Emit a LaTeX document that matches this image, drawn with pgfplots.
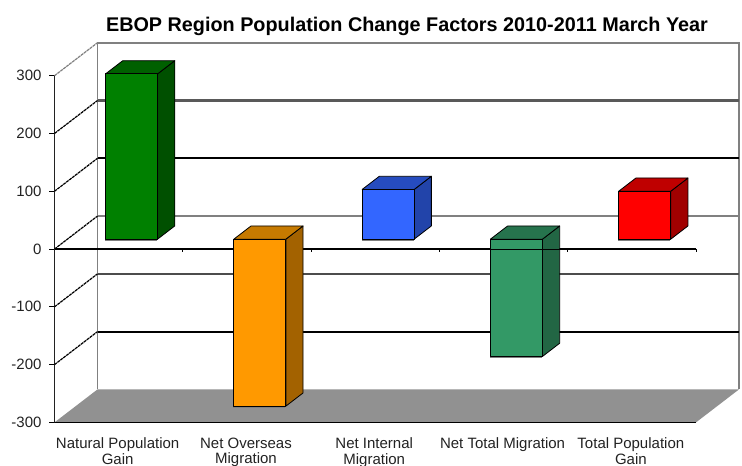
\documentclass[border=0pt]{standalone}
\usepackage{fontspec}
\setmainfont{Liberation Sans}
\usepackage{pgfplots}
\pgfplotsset{compat=1.18}

\definecolor{inktext}{HTML}{222222}
\definecolor{wallgrey}{HTML}{808080}
\definecolor{floorgrey}{HTML}{919191}
\definecolor{greenF}{HTML}{008000}
\definecolor{greenS}{HTML}{005000}
\definecolor{greenT}{HTML}{006000}
\definecolor{orangeF}{HTML}{FF9900}
\definecolor{orangeS}{HTML}{A36200}
\definecolor{orangeT}{HTML}{C67A00}
\definecolor{blueF}{HTML}{3366FF}
\definecolor{blueS}{HTML}{2244AA}
\definecolor{blueT}{HTML}{264CBF}
\definecolor{seaF}{HTML}{339966}
\definecolor{seaS}{HTML}{226644}
\definecolor{seaT}{HTML}{26734D}
\definecolor{redF}{HTML}{FF0000}
\definecolor{redS}{HTML}{A00000}
\definecolor{redT}{HTML}{BF0000}

% One prism: category slot #1, value #2, faces #3 (front), #4 (side), #5 (top).
% Depth runs from 0.3 to 0.7 of the floor; full depth is (0.3352, 57.1) in data units.
\newcommand{\prism}[5]{%
  \pgfmathsetmacro{\vtop}{max(#2,0)}%
  \pgfmathsetmacro{\vbot}{min(#2,0)}%
  \addplot[fill=wallgrey, draw=none] coordinates {
    (#1+0.5-0.2057+0.1006,\vbot+14) (#1+0.5+0.1997+0.1006,\vbot+14)
    (#1+0.5+0.1997+0.1006,\vbot+20) (#1+0.5-0.2057+0.1006,\vbot+20)} --cycle;
  \addplot[fill=#4, draw=black, line width=0.8pt, line join=round] coordinates {
    (#1+0.5+0.2027+0.1006,\vbot+17.13) (#1+0.5+0.2027+0.2346,\vbot+39.97)
    (#1+0.5+0.2027+0.2346,\vtop+39.97) (#1+0.5+0.2027+0.1006,\vtop+17.13)} --cycle;
  \addplot[fill=#5, draw=black, line width=0.8pt, line join=round] coordinates {
    (#1+0.5-0.2027+0.1006,\vtop+17.13) (#1+0.5+0.2027+0.1006,\vtop+17.13)
    (#1+0.5+0.2027+0.2346,\vtop+39.97) (#1+0.5-0.2027+0.2346,\vtop+39.97)} --cycle;
  \addplot[fill=#3, draw=black, line width=0.8pt, line join=round] coordinates {
    (#1+0.5-0.2027+0.1006,\vbot+17.13) (#1+0.5+0.2027+0.1006,\vbot+17.13)
    (#1+0.5+0.2027+0.1006,\vtop+17.13) (#1+0.5-0.2027+0.1006,\vtop+17.13)} --cycle;
}

\begin{document}
\begin{tikzpicture}[x=1pt,y=1pt]
\useasboundingbox (0,0) rectangle (742,466);
\begin{axis}[
  at={(54.5pt,43.6pt)}, anchor=south west,
  scale only axis, width=641.5pt, height=346.7pt,
  xmin=0, xmax=5, ymin=-300, ymax=300,
  clip=false,
  axis x line=bottom, axis y line=left,
  axis line style={-, draw=inktext, line width=1.3pt},
  xtick={0.5,1.5,2.5,3.5,4.5},
  xticklabels={Natural Population\\Gain, Net Overseas\\Migration, Net Internal\\Migration, Net Total Migration, Total Population\\Gain},
  x tick label style={align=center, anchor=north, font=\fontsize{15}{15.6}\selectfont, text=inktext, yshift=-6.6pt, xshift=-1pt},
  x tick style={draw=none},
  ytick={-300,-200,-100,0,100,200,300},
  yticklabels={-300,-200,-100,0,100,200,300},
  y tick label style={font=\fontsize{15}{16}\selectfont, text=inktext, xshift=-4.5pt},
  y tick style={draw=black, line width=1pt},
  tick align=outside, major tick length=5pt,
  title={EBOP Region Population Change Factors 2010-2011 March Year},
  title style={at={(0.5495,1)}, anchor=center, yshift=43pt, font=\fontsize{19.8}{22}\bfseries\selectfont},
]
% Back wall outline
\addplot[wallgrey, line width=1.6pt] coordinates {(0.3352,-242.9)(0.3352,357.1)(5.3352,357.1)(5.3352,-242.9)};
% Gridlines on the back wall
\addplot[black!65, line width=2.1pt] coordinates {(0.3352,257.1)(5.3352,257.1)};
\addplot[black, line width=1.8pt] coordinates {(0.3352,157.1)(5.3352,157.1)};
\addplot[wallgrey, line width=1.6pt] coordinates {(0.3352,57.1)(5.3352,57.1)};
\addplot[black!70, line width=2.1pt] coordinates {(0.3352,-42.9)(5.3352,-42.9)};
\addplot[black, line width=1.8pt] coordinates {(0.3352,-142.9)(5.3352,-142.9)};
% Gridlines on the side wall
\addplot[black!50, line width=1.2pt, dash pattern=on 3pt off 0.7pt] coordinates {(0,300)(0.3352,357.1)};
\pgfplotsinvokeforeach{-200,-100,0,100,200}{
  \addplot[black, line width=1.2pt, dash pattern=on 3pt off 0.7pt] coordinates {(0,#1)(0.3352,#1+57.1)};
}
% Floor
\addplot[fill=floorgrey, draw=none] coordinates {(0,-300)(5,-300)(5.3352,-242.9)(0.3352,-242.9)} --cycle;
\addplot[black, line width=1.7pt] coordinates {(0,-300)(5,-300)};
% Zero line with its category ticks
\addplot[black, line width=1.5pt] coordinates {(0,0)(5,0)};
\addplot[ycomb, black, line width=0.8pt] coordinates {(1,-5)(2,-5)(3,-5)(4,-5)(5,-5)};
% Bars
\prism{0}{286}{greenF}{greenS}{greenT}
\prism{1}{-289}{orangeF}{orangeS}{orangeT}
\prism{2}{86}{blueF}{blueS}{blueT}
\prism{3}{-203}{seaF}{seaS}{seaT}
\prism{4}{83}{redF}{redS}{redT}
% Zero line showing faintly across the fourth bar
\addplot[black, line width=0.6pt] coordinates {(3.395,0)(3.94,0)};
\end{axis}
\end{tikzpicture}
\end{document}
